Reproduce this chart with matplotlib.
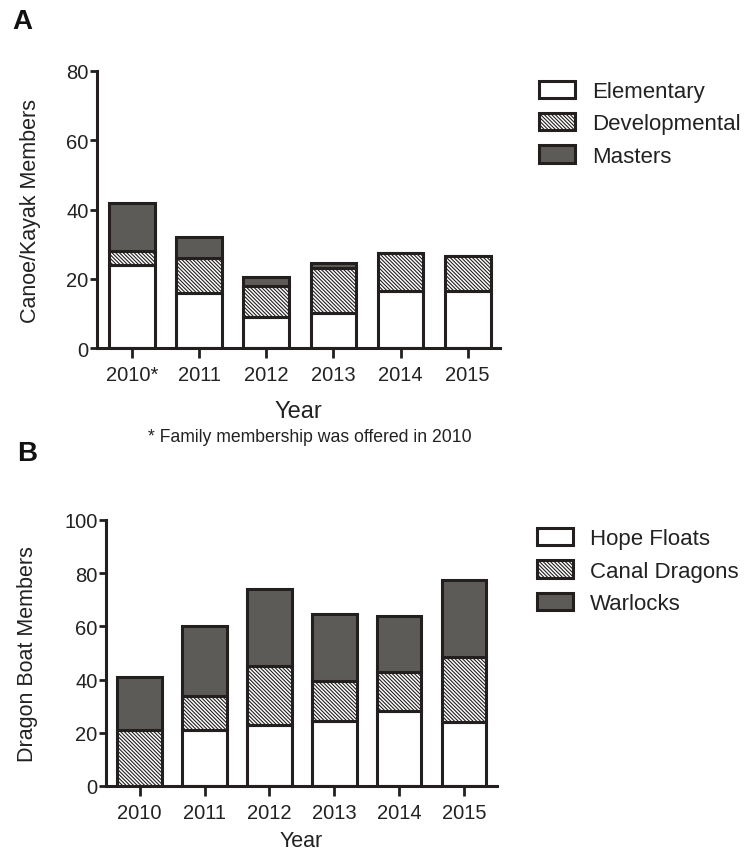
import matplotlib.pyplot as plt
from matplotlib.patches import Patch
import numpy as np

plt.rcParams['font.family'] = ['Liberation Sans', 'DejaVu Sans']
plt.rcParams['hatch.linewidth'] = 0.8

# Panel A - canoe/kayak members
years_a = ['2010*', '2011', '2012', '2013', '2014', '2015']
elementary = [24, 16, 9, 10, 16.5, 16.5]
developmental = [4, 10, 9, 13, 11, 10]
masters = [14, 6, 2.5, 1.5, 0, 0]

# Panel B - dragon boat members
years_b = ['2010', '2011', '2012', '2013', '2014', '2015']
hope_floats = [0, 21, 23, 24.5, 28, 24]
canal_dragons = [21, 13, 22, 15, 15, 24.5]
warlocks = [20, 26, 29, 25, 21, 29]

ink = '#231f1f'
dark = '#5c5b57'
hatch = '\\' * 9

fig = plt.figure(figsize=(7.48, 8.54), dpi=100)


def stacked(ax, labels, s1, s2, s3, width):
    x = np.arange(len(labels))
    b1 = np.array(s1)
    b2 = b1 + np.array(s2)
    ax.bar(x, s1, width, color='white', edgecolor=ink, linewidth=2.2)
    ax.bar(x, s2, width, bottom=b1, color='white', edgecolor=ink, linewidth=2.2, hatch=hatch)
    ax.bar(x, s3, width, bottom=b2, color=dark, edgecolor=ink, linewidth=2.2)
    ax.set_xticks(x)
    ax.set_xticklabels(labels)
    for s in ['top', 'right']:
        ax.spines[s].set_visible(False)
    for s in ['left', 'bottom']:
        ax.spines[s].set_linewidth(2.2)
        ax.spines[s].set_color(ink)
    ax.tick_params(axis='both', direction='out', width=2, length=5, color=ink,
                   labelsize=14.5, labelcolor='#222')
    ax.tick_params(axis='x', length=7, pad=5)
    ax.tick_params(axis='y', pad=1)


def legend(names, anchor):
    handles = [Patch(facecolor='white', edgecolor=ink, linewidth=2.2),
               Patch(facecolor='white', edgecolor=ink, linewidth=2.2, hatch=hatch),
               Patch(facecolor=dark, edgecolor=ink, linewidth=2.2)]
    fig.legend(handles, names, loc='upper left', bbox_to_anchor=anchor, frameon=False,
               fontsize=16, handlelength=1.62, handleheight=0.81, labelspacing=0.5,
               handletextpad=0.75, borderaxespad=0, borderpad=0, labelcolor='#222')


axA = fig.add_axes([0.1297, 0.5913, 0.5387, 0.3244])
stacked(axA, years_a, elementary, developmental, masters, 0.68)
axA.set_xlim(-0.52, 5.48)
axA.set_ylim(0, 80)
axA.set_yticks([0, 20, 40, 60, 80])
axA.set_ylabel('Canoe/Kayak Members', fontsize=15.5, color='#222', labelpad=18)
axA.set_xlabel('Year', fontsize=17, color='#222', labelpad=12)
legend(['Elementary', 'Developmental', 'Masters'], (0.7206, 0.9045))

axB = fig.add_axes([0.1417, 0.0785, 0.5228, 0.3115])
stacked(axB, years_b, hope_floats, canal_dragons, warlocks, 0.69)
axB.set_xlim(-0.52, 5.51)
axB.set_ylim(0, 100)
axB.set_yticks([0, 20, 40, 60, 80, 100])
axB.set_ylabel('Dragon Boat Members', fontsize=15.5, color='#222', labelpad=19)
axB.set_xlabel('Year', fontsize=15.5, color='#222', labelpad=6)
legend(['Hope Floats', 'Canal Dragons', 'Warlocks'], (0.718, 0.3805))

fig.text(0.414, 1 - 438 / 854, '* Family membership was offered in 2010', fontsize=12.7,
         color='#222', ha='center', va='center')
fig.text(12 / 748, 1 - 22 / 854, 'A', fontsize=20, fontweight='bold', color='#111', va='center')
fig.text(17 / 748, 1 - 454 / 854, 'B', fontsize=20, fontweight='bold', color='#111', va='center')

fig.savefig('out.png', dpi=100)
